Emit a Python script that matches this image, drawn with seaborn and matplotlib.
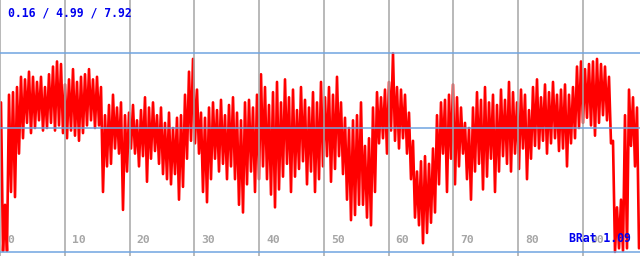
import numpy as np
import pandas as pd
import matplotlib
matplotlib.use("Agg")
import matplotlib.pyplot as plt
import seaborn as sns

# per-block envelope (upper / lower value of each short stretch of the series)
hi = [6.0, 2.0, 6.3, 6.4, 6.6, 7.0, 6.9, 7.2, 7.0, 6.8,
      7.0, 6.6, 7.1, 7.4, 7.6, 7.5, 6.7, 6.9, 7.3, 6.8,
      7.0, 7.1, 7.3, 6.9, 7.0, 6.6, 5.5, 5.9, 6.3, 5.8,
      6.0, 5.5, 5.6, 5.9, 5.3, 5.7, 6.2, 5.8, 6.0, 5.5,
      5.8, 5.2, 5.6, 5.0, 5.4, 5.5, 6.3, 7.2, 7.7, 6.5,
      5.6, 5.4, 5.8, 6.0, 5.7, 6.1, 5.5, 5.9, 6.2, 5.6,
      5.3, 6.0, 6.1, 5.8, 6.3, 7.1, 6.6, 5.9, 6.4, 6.8,
      6.0, 6.9, 6.2, 6.5, 5.7, 6.6, 6.1, 5.8, 6.4, 6.0,
      6.8, 6.2, 6.6, 6.3, 7.0, 6.0, 5.4, 5.0, 5.3, 5.5,
      6.0, 4.3, 4.6, 5.8, 6.4, 6.2, 6.5, 6.8, 7.92, 6.6,
      6.5, 6.3, 5.6, 4.5, 3.3, 3.7, 3.9, 3.6, 4.2, 5.5,
      6.0, 6.1, 6.3, 6.7, 6.2, 5.8, 5.2, 5.0, 5.8, 6.4,
      6.1, 6.6, 6.0, 6.3, 5.9, 6.5, 6.1, 6.8, 6.4, 6.0,
      6.5, 6.3, 5.7, 6.6, 6.9, 6.2, 6.7, 6.4, 6.8, 6.3,
      6.5, 6.7, 6.3, 6.6, 7.4, 7.6, 7.3, 7.5, 7.6, 7.7,
      7.5, 7.4, 7.0, 4.5, 1.9, 2.2, 5.5, 6.5, 6.2, 5.8]
lo = [0.2, 0.2, 2.5, 2.3, 4.0, 4.6, 5.2, 4.8, 5.0, 5.3,
      4.9, 5.0, 5.2, 4.9, 5.1, 4.8, 4.6, 4.9, 4.7, 4.5,
      4.8, 5.1, 5.3, 5.0, 5.1, 2.5, 3.5, 3.6, 4.2, 4.0,
      1.8, 3.3, 4.2, 4.0, 3.5, 3.9, 2.9, 3.8, 4.1, 3.6,
      3.2, 3.0, 2.8, 3.2, 2.2, 2.7, 3.8, 4.5, 4.4, 4.0,
      2.5, 2.1, 3.0, 3.8, 3.3, 3.6, 3.0, 3.5, 3.0, 2.0,
      1.7, 2.8, 3.3, 2.5, 3.0, 3.5, 3.0, 2.4, 1.9, 2.6,
      3.1, 3.6, 2.5, 3.1, 3.4, 3.7, 2.8, 3.3, 2.5, 3.0,
      3.5, 3.9, 2.9, 3.4, 3.9, 3.2, 2.2, 1.4, 1.6, 2.0,
      2.0, 1.5, 1.2, 2.5, 4.4, 4.6, 4.0, 4.9, 4.5, 4.2,
      4.6, 4.0, 3.0, 1.5, 1.2, 0.5, 0.9, 1.3, 1.7, 2.8,
      4.0, 2.5, 3.8, 2.8, 3.5, 4.0, 3.0, 2.2, 3.3, 3.6,
      2.6, 3.1, 3.8, 2.5, 3.3, 3.9, 3.6, 3.3, 4.0, 3.4,
      4.2, 3.0, 3.8, 4.3, 4.2, 4.5, 4.0, 4.4, 4.6, 4.1,
      4.2, 3.5, 4.4, 4.6, 5.0, 5.2, 5.4, 5.1, 4.7, 5.2,
      5.5, 5.3, 4.4, 0.16, 0.3, 0.2, 0.3, 4.3, 3.5, 0.3]

stats = [0.16, 4.99, 7.92]
x_ticks = [0, 10, 20, 30, 40, 50, 60, 70, 80, 90]
x_max = 98.8
label_text = "BRat 1.09"

series = np.ravel(np.column_stack([hi, lo]))
xpos = (np.arange(len(series)) + 0.5) * x_max / len(series)
df = pd.DataFrame({"x": xpos, "v": series})

sns.set_style("white")
plt.rcParams["font.family"] = ["DejaVu Sans Mono"]

fig = plt.figure(figsize=(6.4, 2.56), dpi=100)
ax = fig.add_axes([0, 0, 1, 1])
sns.lineplot(data=df, x="x", y="v", ax=ax, color="#ff0000", lw=1.9,
             sort=False, estimator=None, zorder=2)
ax.set_xlim(0, x_max)
ax.set_ylim(0, 10)
for s in ax.spines.values():
    s.set_visible(False)
ax.set_xticks([])
ax.set_yticks([])
ax.set_xlabel("")
ax.set_ylabel("")

for t in x_ticks:
    ax.axvline(t, color="#a6a6a6", lw=1.1, zorder=3)
    ax.annotate(str(t), (t, 0), xytext=(7, 11), textcoords="offset pixels",
                color="#a6a6a6", fontsize=8.2, fontweight="bold",
                ha="left", va="bottom", zorder=4)
for s in stats:
    ax.axhline(s, color="#70a4e0", lw=1.1, zorder=3)

ax.text(8, 236, " / ".join(f"{s:.2f}" for s in stats), transform=None,
        color="#0000ee", fontsize=8.3, fontweight="bold", ha="left", va="bottom")
ax.text(569, 11, label_text, transform=None, color="#0000ee", fontsize=8.3,
        fontweight="bold", ha="left", va="bottom", zorder=5)

fig.savefig("out.png", dpi=100)
